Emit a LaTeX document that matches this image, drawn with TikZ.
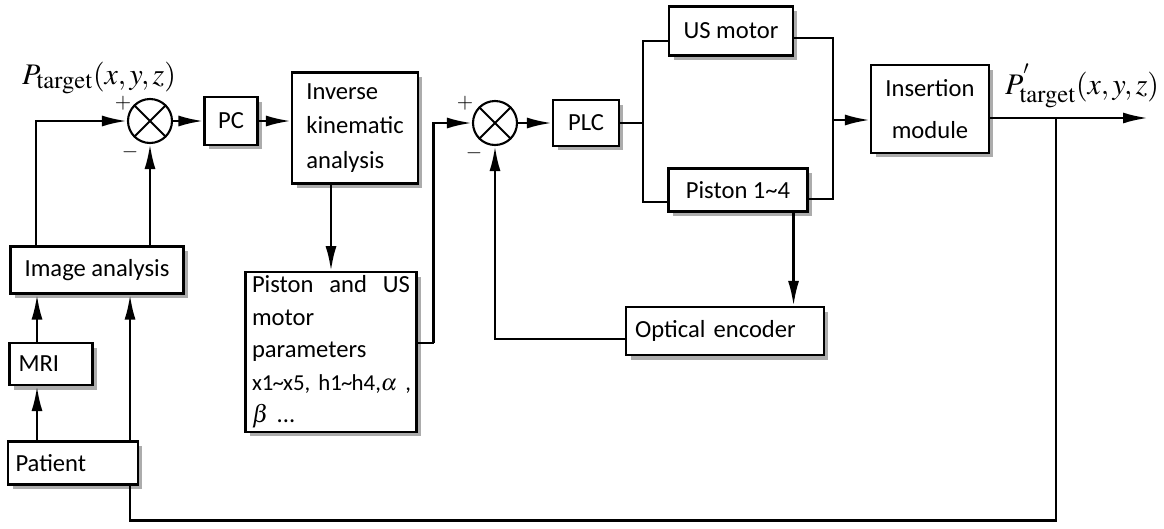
\documentclass[tikz,border=0pt]{standalone}
\usepackage{mathptmx}
\usepackage[no-math]{fontspec}
\setmainfont{Carlito}
\DeclareMathSizes{17}{17}{14}{11}
\usetikzlibrary{arrows.meta,positioning,shadows,calc}
\tikzset{
    block/.style = {draw, rectangle, fill=white, line width=1.2pt,
        drop shadow={shadow xshift=0.09cm, shadow yshift=-0.09cm, fill=gray!65, opacity=1},
        inner sep=2pt, align=center, font=\fontsize{14}{17}\selectfont},
    sum/.style = {draw, circle, line width=1.2pt, minimum size=0.88cm, inner sep=0pt,
        path picture={\draw[line width=1.2pt]
            (path picture bounding box.north west) -- (path picture bounding box.south east)
            (path picture bounding box.north east) -- (path picture bounding box.south west);}},
    input/.style = {coordinate},
    output/.style = {coordinate},
    arrow/.style = {draw, line width=1.5pt, -{Latex[length=0.5cm,width=0.22cm]}},
    wire/.style = {draw, line width=1.2pt},
    sign/.style = {font=\fontsize{12}{12}\selectfont, inner sep=0pt},
    mlabel/.style = {font=\fontsize{17}{20}\selectfont, inner sep=0pt}
}

\begin{document}
\begin{tikzpicture}[x=0.02cm, y=-0.02cm]
    \useasboundingbox (0,0) rectangle (1164,528);
    % planning loop
    \node [input, name=ref] at (36,121) {};
    \node [sum] (sum1) at (150,121) {};
    \node [block, minimum width=1.06cm, minimum height=0.96cm] (pc) at (231,121) {PC};
    \node [block, align=left, minimum width=2.52cm, minimum height=2.22cm,
        font=\fontsize{14}{19.5}\selectfont] (inv) at (355,128) {Inverse\\ kinematic\\ analysis};
    \node [block, align=left, text width=3.16cm, inner xsep=0.13cm, minimum height=3.16cm,
        font=\fontsize{14}{18.5}\selectfont] (param) at (331,352)
        {Piston\hfill and\hfill US\\ motor\\ parameters\\
         \mbox{\fontsize{13}{18.5}\selectfont x1\kern-.5pt\textasciitilde\kern-.5pt x5, h1\kern-.5pt\textasciitilde\kern-.5pt h4,$\alpha$ ,}\\ $\beta$ ...};
    \node [block, minimum width=3.46cm, minimum height=0.94cm] (img) at (97,270) {Image analysis};
    \node [block, align=left, minimum width=1.66cm, minimum height=0.84cm, text width=1.3cm] (mri) at (51,364) {MRI};
    \node [block, align=left, minimum width=2.6cm, minimum height=0.86cm, text width=2.3cm] (patient) at (73,463) {Patient};
    % actuation loop
    \node [sum] (sum2) at (495,123) {};
    \node [block, minimum width=1.32cm, minimum height=0.92cm] (plc) at (586,123) {PLC};
    \node [block, minimum width=2.48cm, minimum height=0.98cm] (usm) at (731,31) {US motor};
    \node [block, minimum width=2.78cm, minimum height=0.86cm] (piston) at (738,190) {Piston 1\textasciitilde 4};
    \node [block, minimum width=2.36cm, minimum height=1.76cm] (ins) at (930,109) {Insertion\\[7pt] module};
    \node [block, align=left, minimum width=3.96cm, minimum height=0.96cm, text width=3.6cm] (enc) at (725,331) {Optical encoder};
    \node [input, name=split] at (643,123) {};
    \node [input, name=merge] at (833,120) {};
    \node [output, name=out] at (1148,118) {};
    \node [input, name=tap] at (1056,118) {};

    % signals
    \node [mlabel] at (99,78) {$P_{\mathrm{target}}(x,y,z)$};
    \node [mlabel] at (1082,86) {$P^{'}_{\mathrm{target}}(x,y,z)$};
    \node [sign] at (123,103) {$+$};
    \node [sign] at (130,152) {$-$};
    \node [sign] at (465,103) {$+$};
    \node [sign] at (474,153) {$-$};

    % connectors
    \draw [arrow] (img.north -| ref) -- (ref) -- (sum1.west);
    \draw [arrow] (img.north -| sum1) -- (sum1.south);
    \draw [arrow] (sum1) -- (pc);
    \draw [arrow] (pc.east) -- (pc.east -| inv.west);
    \draw [arrow] (inv.south -| param) -- (param.north);
    \draw [wire] ([yshift=0.18cm]param.east) -- ++(16,0) coordinate (pb);
    \draw [arrow] (pb) |- (sum2.west);
    \draw [arrow] (sum2) -- (plc);
    \draw [wire] (plc.east) -- (split);
    \draw [wire] (split) |- ([yshift=-0.2cm]usm.west);
    \draw [wire] (split) |- ([yshift=-0.24cm]piston.west);
    \draw [wire] ([yshift=-0.14cm]usm.east) -| (merge);
    \draw [wire] ([yshift=-0.18cm]piston.east) -| (merge);
    \draw [arrow] (merge) -- (merge -| ins.west);
    \draw [arrow] (out -| ins.east) -- (out);
    \draw [arrow] ([xshift=-0.3cm]piston.south east) coordinate (pe) -- (pe |- enc.north);
    \draw [arrow] ([yshift=-0.16cm]enc.west) -| (sum2.south);
    \node [input, name=m1] at ([xshift=-0.28cm]mri.south) {};
    \draw [arrow] (patient.north -| m1) -- (m1);
    \draw [arrow] ([xshift=-0.28cm]mri.north) coordinate (m2) -- (m2 |- img.south);
    \draw [arrow] ([xshift=-0.18cm]patient.north east) coordinate (p1) -- (p1 |- img.south);
    \draw [wire] (tap) |- ([xshift=-0.18cm,yshift=-0.7cm]patient.south east) -- ([xshift=-0.18cm]patient.south east);
\end{tikzpicture}
\end{document}
